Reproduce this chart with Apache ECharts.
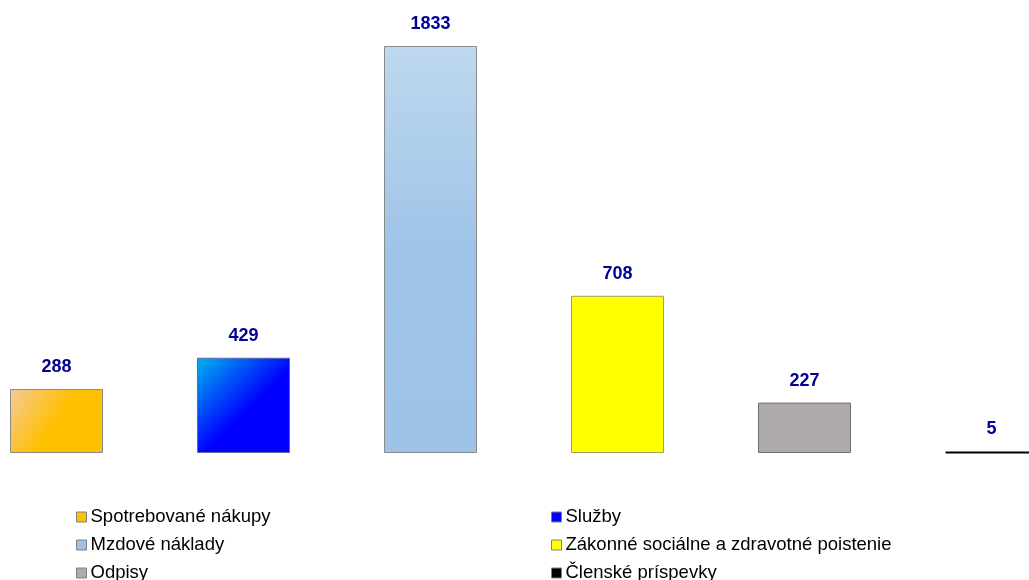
<!DOCTYPE html>
<html>
<head>
<meta charset="utf-8">
<script src="https://cdn.jsdelivr.net/npm/echarts@6/dist/echarts.min.js"></script>
<style>
  html, body { margin: 0; padding: 0; background: #ffffff; overflow: hidden; }
  /* chart plot runs past the window edges, so the container is wider and shifted left */
  #chart { width: 1122px; height: 580px; margin-left: -37px; }
</style>
</head>
<body>
<div id="chart"></div>
<script>
const categories = ['Spotrebované nákupy', 'Služby', 'Mzdové náklady',
  'Zákonné sociálne a zdravotné poistenie', 'Odpisy', 'Členské príspevky']
const values = [288, 429, 1833, 708, 227, 5]
const legendLeft = ['Spotrebované nákupy', 'Mzdové náklady', 'Odpisy']
const legendRight = ['Služby', 'Zákonné sociálne a zdravotné poistenie', 'Členské príspevky']

const fills = [
  { type: 'linear', x: 0, y: 0, x2: 1, y2: 1, colorStops: [
    { offset: 0, color: '#f6c99c' }, { offset: 0.5, color: '#ffc000' }, { offset: 1, color: '#ffc000' }] },
  { type: 'linear', x: 0, y: 0, x2: 1, y2: 1, colorStops: [
    { offset: 0, color: '#00b4ee' }, { offset: 0.55, color: '#0000ff' }, { offset: 1, color: '#0000ff' }] },
  { type: 'linear', x: 0, y: 0, x2: 0, y2: 1, colorStops: [
    { offset: 0, color: '#bed8ee' }, { offset: 0.5, color: '#9fc4e8' }, { offset: 1, color: '#9cc2e6' }] },
  '#ffff00',
  '#aeaaa9',
  '#000000'
]
const iconColors = ['#ffc000', '#0000ff', '#9cc2e6', '#ffff00', '#aeaaa9', '#000000']
const borders = ['#8a8a8a', '#5a6aa0', '#8a8a8a', '#a0a060', '#707070', '#000000']
const borderWidths = [1, 1, 1, 1, 1, 2]

const shift = 37
const chart = echarts.init(document.getElementById('chart'))

const series = categories.map((name, i) => ({
  name: name,
  type: 'bar',
  stack: 'all',
  barWidth: 93,
  data: values.map((v, j) => (j === i ? v : '-')),
  itemStyle: {
    color: fills[i],
    borderColor: borders[i],
    borderWidth: borderWidths[i]
  },
  label: {
    show: true,
    position: 'top',
    distance: 13,
    color: '#000099',
    fontFamily: 'Liberation Sans, Arial, sans-serif',
    fontWeight: 'bold',
    fontSize: 18
  }
}))

function legendData(names) {
  return names.map(n => {
    const i = categories.indexOf(n)
    return { name: n, itemStyle: { color: iconColors[i], borderColor: '#808080', borderWidth: 1 } }
  })
}

const legendBase = {
  orient: 'vertical',
  top: 507,
  height: 80,
  padding: 0,
  icon: 'rect',
  itemWidth: 10,
  itemHeight: 10,
  itemGap: 8,
  selectedMode: false,
  textStyle: {
    color: '#000000',
    fontFamily: 'Liberation Sans, Arial, sans-serif',
    fontSize: 18.5,
    lineHeight: 20,
    padding: [0, 0, 0, -1]
  }
}

chart.setOption({
  backgroundColor: '#ffffff',
  animation: false,
  grid: { left: 0, right: 0, top: 46, bottom: 127, containLabel: false },
  xAxis: {
    type: 'category',
    data: categories,
    show: false
  },
  yAxis: {
    type: 'value',
    min: 0,
    max: 1833,
    show: false
  },
  legend: [
    Object.assign({}, legendBase, { left: 76 + shift, data: legendData(legendLeft) }),
    Object.assign({}, legendBase, { left: 551 + shift, data: legendData(legendRight) })
  ],
  series: series
})
</script>
</body>
</html>
